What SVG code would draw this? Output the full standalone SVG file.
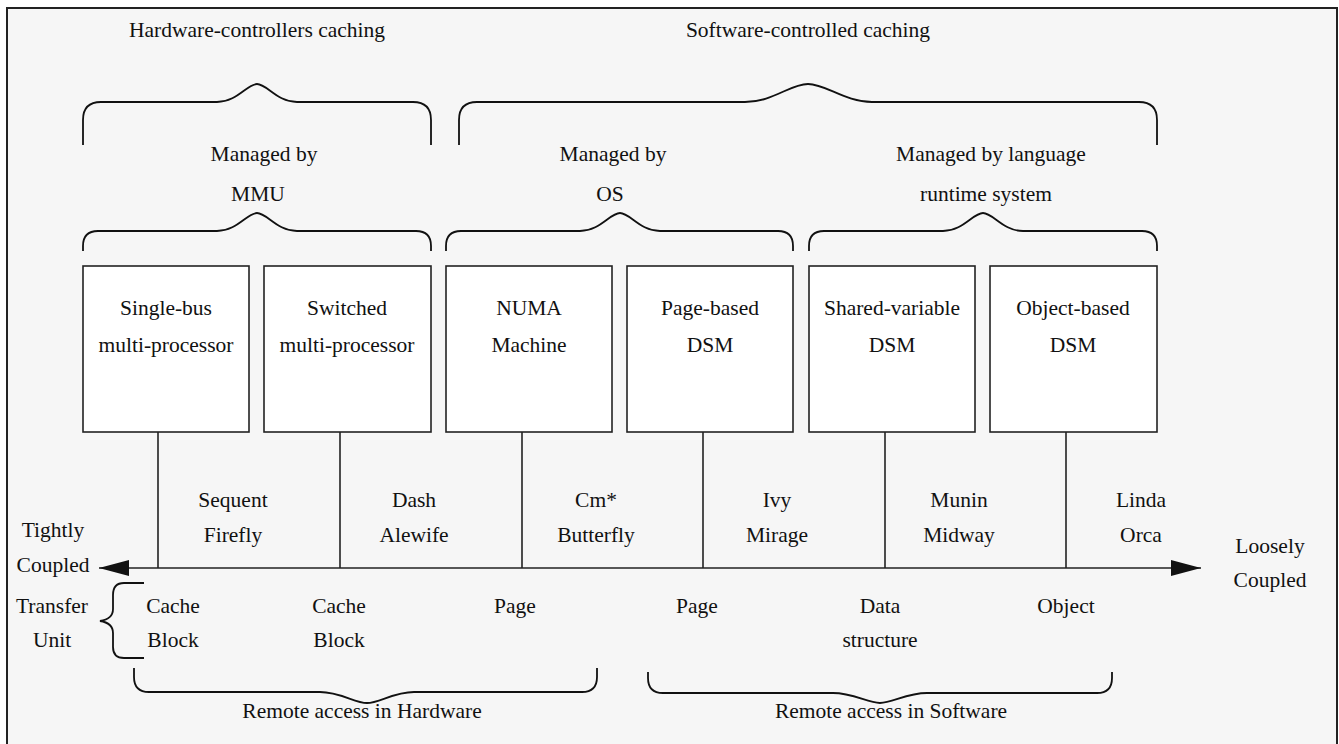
<svg xmlns="http://www.w3.org/2000/svg" width="1339" height="744" viewBox="0 0 1339 744">
<style>
text{font-family:"Liberation Serif","Times New Roman",Times,serif;font-size:21.5px;fill:#111;text-anchor:middle}
.box{fill:#fff;stroke:#222;stroke-width:1.6}
.ln{stroke:#222;stroke-width:1.6;fill:none}
.br{stroke:#111;stroke-width:1.8;fill:none}
</style>
<defs>
<marker id="ah" markerWidth="30" markerHeight="16" refX="30" refY="8" orient="auto-start-reverse" markerUnits="userSpaceOnUse"><path d="M0,0 L30,8 L0,16 Z" fill="#111"/></marker>
</defs>
<rect x="7" y="8" width="1330" height="745" fill="#f6f6f6" stroke="#222" stroke-width="2"/>
<g id="titles" font-family="Liberation Serif, serif">
<text x="257" y="37">Hardware-controllers caching</text>
<text x="808" y="37">Software-controlled caching</text>
<text x="264" y="161">Managed by</text>
<text x="258" y="201">MMU</text>
<text x="613" y="161">Managed by</text>
<text x="610" y="201">OS</text>
<text x="991" y="161">Managed by language</text>
<text x="986" y="201">runtime system</text>
</g>
<g id="braces">
<path class="br" d="M83,145 L83,120 Q83,102 101,102 L217,102 C237,102 247,84 257,84 C267,84 277,102 297,102 L413,102 Q431,102 431,120 L431,145"/>
<path class="br" d="M459,145 L459,120 Q459,102 477,102 L745,102 C773,102 790,84 808,84 C826,84 845,102 872,102 L1139,102 Q1157,102 1157,120 L1157,145"/>
<path class="br" d="M83,251 L83,246 Q83,231 98,231 L217,231 C237,231 247,213 257,213 C267,213 277,231 297,231 L416,231 Q431,231 431,246 L431,251"/>
<path class="br" d="M446,251 L446,246 Q446,231 461,231 L580,231 C600,231 610,213 620,213 C630,213 640,231 660,231 L778,231 Q793,231 793,246 L793,251"/>
<path class="br" d="M809,251 L809,246 Q809,231 824,231 L943,231 C963,231 973,213 983,213 C993,213 1003,231 1023,231 L1142,231 Q1157,231 1157,246 L1157,251"/>
<path class="br" d="M134,668 L134,677 Q134,692 149,692 L320,692 C340,692 355,703 367,703 C379,703 394,692 414,692 L582,692 Q597,692 597,677 L597,668"/>
<path class="br" d="M648,672 L648,678 Q648,693 663,693 L833,693 C853,693 868,703 880,703 C892,703 907,693 927,693 L1097,693 Q1112,693 1112,678 L1112,672"/>
<path class="br" d="M144,583 L124,583 Q113,583 113,595 L113,609 Q113,619 100,621 Q113,623 113,633 L113,647 Q113,658 124,658 L144,658"/>
</g>
<g id="connectors">
<line class="ln" x1="158" y1="432" x2="158" y2="568"/>
<line class="ln" x1="340" y1="432" x2="340" y2="568"/>
<line class="ln" x1="522" y1="432" x2="522" y2="568"/>
<line class="ln" x1="703" y1="432" x2="703" y2="568"/>
<line class="ln" x1="885" y1="432" x2="885" y2="568"/>
<line class="ln" x1="1066" y1="432" x2="1066" y2="568"/>
<line class="ln" x1="99" y1="568" x2="1201" y2="568" marker-start="url(#ah)" marker-end="url(#ah)"/>
</g>
<g id="n1"><rect class="box" x="83" y="266" width="166" height="166"/><text x="166" y="315">Single-bus</text><text x="166" y="352">multi-processor</text></g>
<g id="n2"><rect class="box" x="264" y="266" width="167" height="166"/><text x="347" y="315">Switched</text><text x="347" y="352">multi-processor</text></g>
<g id="n3"><rect class="box" x="446" y="266" width="166" height="166"/><text x="529" y="315">NUMA</text><text x="529" y="352">Machine</text></g>
<g id="n4"><rect class="box" x="627" y="266" width="166" height="166"/><text x="710" y="315">Page-based</text><text x="710" y="352">DSM</text></g>
<g id="n5"><rect class="box" x="809" y="266" width="166" height="166"/><text x="892" y="315">Shared-variable</text><text x="892" y="352">DSM</text></g>
<g id="n6"><rect class="box" x="990" y="266" width="167" height="166"/><text x="1073" y="315">Object-based</text><text x="1073" y="352">DSM</text></g>
<g id="examples">
<text x="233" y="507">Sequent</text><text x="233" y="542">Firefly</text>
<text x="414" y="507">Dash</text><text x="414" y="542">Alewife</text>
<text x="596" y="507">Cm*</text><text x="596" y="542">Butterfly</text>
<text x="777" y="507">Ivy</text><text x="777" y="542">Mirage</text>
<text x="959" y="507">Munin</text><text x="959" y="542">Midway</text>
<text x="1141" y="507">Linda</text><text x="1141" y="542">Orca</text>
</g>
<g id="ends">
<text x="53" y="537">Tightly</text><text x="53" y="572">Coupled</text>
<text x="1270" y="553">Loosely</text><text x="1270" y="587">Coupled</text>
<text x="52" y="613">Transfer</text><text x="52" y="647">Unit</text>
</g>
<g id="units">
<text x="173" y="613">Cache</text><text x="173" y="647">Block</text>
<text x="339" y="613">Cache</text><text x="339" y="647">Block</text>
<text x="515" y="613">Page</text>
<text x="697" y="613">Page</text>
<text x="880" y="613">Data</text><text x="880" y="647">structure</text>
<text x="1066" y="613">Object</text>
</g>
<g id="remote">
<text x="362" y="718">Remote access in Hardware</text>
<text x="891" y="718">Remote access in Software</text>
</g>
</svg>
